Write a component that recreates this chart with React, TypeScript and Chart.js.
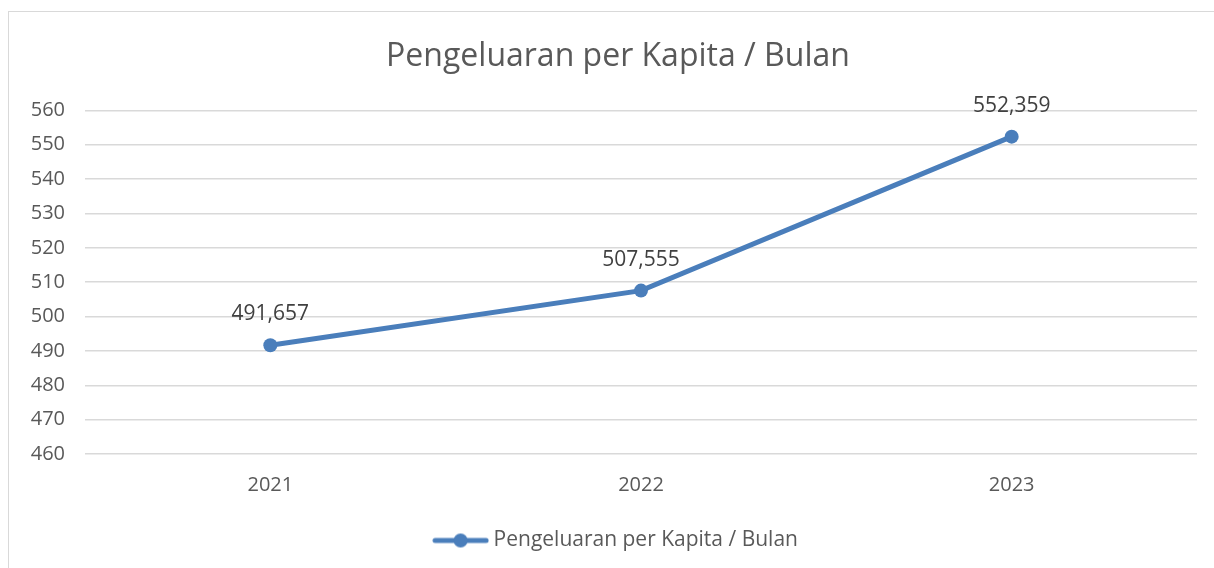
import React, { useEffect, useRef } from "react";
import { Chart, registerables } from "chart.js";

Chart.register(...registerables);

const categories = ["2021", "2022", "2023"];
const values = [491.657, 507.555, 552.359];
const valueLabels = ["491,657", "507,555", "552,359"];
const seriesName = "Pengeluaran per Kapita / Bulan";
const titleText = "Pengeluaran per Kapita / Bulan";
const yMin = 460;
const yMax = 560;
const yStep = 10;

const BLUE = "#4a7ebb";
const FONT = "'Open Sans', 'Noto Sans', sans-serif";

function makeLegendMarker(): HTMLCanvasElement {
  const c = document.createElement("canvas");
  c.width = 57;
  c.height = 16;
  const ctx = c.getContext("2d")!;
  ctx.strokeStyle = BLUE;
  ctx.lineWidth = 5;
  ctx.lineCap = "round";
  ctx.beginPath();
  ctx.moveTo(3, 8);
  ctx.lineTo(54, 8);
  ctx.stroke();
  ctx.fillStyle = BLUE;
  ctx.beginPath();
  ctx.arc(28.5, 8, 7, 0, Math.PI * 2);
  ctx.fill();
  return c;
}

const dataLabelPlugin = {
  id: "dataLabels",
  afterDatasetsDraw(chart: any) {
    const ctx = chart.ctx;
    const meta = chart.getDatasetMeta(0);
    ctx.save();
    ctx.font = `21px ${FONT}`;
    ctx.fillStyle = "#404040";
    ctx.textAlign = "center";
    ctx.textBaseline = "middle";
    meta.data.forEach((pt: any, i: number) => {
      ctx.fillText(valueLabels[i], pt.x, pt.y - 31);
    });
    ctx.restore();
  },
};

// let the y tick labels extend into the layout padding on the left
const noLabelClipPlugin = {
  id: "noLabelClip",
  afterLayout(chart: any) {
    const y = chart.scales.y;
    if (y) y._computeLabelArea = () => undefined;
  },
};

export default function App() {
  const ref = useRef<HTMLCanvasElement>(null);
  useEffect(() => {
    const marker = makeLegendMarker();
    const chart = new Chart(ref.current!, {
      type: "line",
      data: {
        labels: categories,
        datasets: [
          {
            label: seriesName,
            data: values,
            borderColor: BLUE,
            backgroundColor: BLUE,
            borderWidth: 5,
            pointRadius: 7,
            pointHoverRadius: 7,
            pointBackgroundColor: BLUE,
            pointBorderWidth: 0,
            tension: 0,
            borderCapStyle: "round",
          },
        ],
      },
      options: {
        animation: false,
        responsive: false,
        maintainAspectRatio: false,
        layout: { padding: { left: 39, right: 17, top: 0, bottom: 7 } },
        plugins: {
          tooltip: { enabled: false },
          title: {
            display: true,
            text: titleText,
            color: "#595959",
            font: { family: FONT, size: 32, weight: "normal" },
            padding: { top: 38, bottom: 34 },
          },
          legend: {
            display: true,
            position: "bottom",
            labels: {
              color: "#595959",
              font: { family: FONT, size: 21 },
              usePointStyle: true,
              pointStyleWidth: 45,
              padding: 10,
              generateLabels: () => [
                {
                  text: seriesName,
                  pointStyle: marker,
                  fillStyle: BLUE,
                  strokeStyle: BLUE,
                  lineWidth: 0,
                  hidden: false,
                  datasetIndex: 0,
                  fontColor: "#595959",
                },
              ],
            },
          },
        },
        scales: {
          x: {
            offset: true,
            grid: { display: false, drawTicks: false },
            border: { display: false },
            ticks: { color: "#595959", font: { family: FONT, size: 20 }, padding: 19 },
            afterFit: (s: any) => {
              s.height = 66;
            },
          },
          y: {
            min: yMin,
            max: yMax,
            ticks: {
              stepSize: yStep,
              color: "#595959",
              font: { family: FONT, size: 20 },
              padding: 20,
            },
            grid: { color: "#d9d9d9", lineWidth: 1.5, drawTicks: false },
            border: { display: false },
            afterFit: (s: any) => {
              s.width = 46;
            },
          },
        },
      },
      plugins: [noLabelClipPlugin, dataLabelPlugin],
    });
    return () => chart.destroy();
  }, []);
  return (
    <div>
      <div
        style={{
          position: "absolute",
          left: 8,
          top: 11,
          width: 1206,
          height: 557,
          borderLeft: "1px solid #d9d9d9",
          borderTop: "1px solid #d9d9d9",
          boxSizing: "border-box",
        }}
      />
      <canvas
        ref={ref}
        width={1214}
        height={568}
        style={{ position: "absolute", left: 0, top: 0, width: 1214, height: 568 }}
      />
    </div>
  );
}
